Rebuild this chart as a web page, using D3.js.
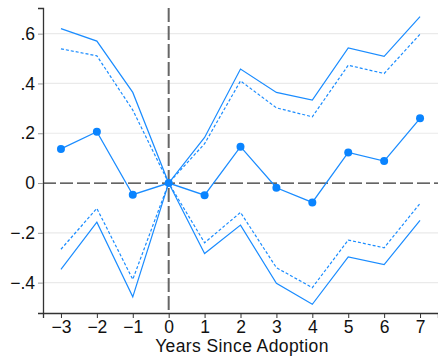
<!DOCTYPE html>
<html>
<head>
<meta charset="utf-8">
<script src="https://cdn.jsdelivr.net/npm/d3@7"></script>
<style>
body { margin: 0; background: #fff; }
svg { font-family: "Liberation Sans", Arial, sans-serif; }
</style>
</head>
<body>
<svg id="chart" width="438" height="357"></svg>
<script>
var years = [-3, -2, -1, 0, 1, 2, 3, 4, 5, 6, 7];
var estimate = [0.137, 0.206, -0.047, 0, -0.049, 0.146, -0.019, -0.078, 0.123, 0.088, 0.26];
var upper95 = [0.62, 0.57, 0.364, 0, 0.183, 0.458, 0.364, 0.333, 0.543, 0.509, 0.668];
var lower95 = [-0.347, -0.157, -0.457, 0, -0.283, -0.169, -0.403, -0.487, -0.297, -0.328, -0.15];
var upper90 = [0.539, 0.511, 0.293, 0, 0.158, 0.41, 0.302, 0.266, 0.473, 0.44, 0.598];
var lower90 = [-0.266, -0.102, -0.387, 0, -0.24, -0.118, -0.34, -0.42, -0.229, -0.26, -0.082];
var yTicks = [-0.4, -0.2, 0, 0.2, 0.4, 0.6];

var svg = d3.select("#chart");
var margin = {top: 8, right: 0, bottom: 44, left: 43};
var width = 438 - margin.left - margin.right;
var height = 357 - margin.top - margin.bottom;

var x = d3.scaleLinear().domain([-3.5, 7.5]).range([0, width]);
var y = d3.scaleLinear().domain([-0.522, 0.703]).range([height, 0]);

var g = svg.append("g").attr("transform", "translate(" + margin.left + "," + margin.top + ")");

// grid lines
g.selectAll(".grid")
    .data(yTicks.filter(function (d) { return d !== 0; }))
    .enter().append("line")
    .attr("x1", 0).attr("x2", width)
    .attr("y1", function (d) { return y(d); })
    .attr("y2", function (d) { return y(d); })
    .attr("stroke", "#eaeaea")
    .attr("stroke-width", 1.2);

// reference lines
g.append("line")
    .attr("x1", 0).attr("x2", width)
    .attr("y1", y(0)).attr("y2", y(0))
    .attr("stroke", "#333")
    .attr("stroke-width", 1.3)
    .attr("stroke-dasharray", "13,4");
g.append("line")
    .attr("x1", x(0)).attr("x2", x(0))
    .attr("y1", 0).attr("y2", height)
    .attr("stroke", "#666")
    .attr("stroke-width", 2)
    .attr("stroke-dasharray", "14,4");

var line = function (vals) {
    return d3.line()
        .x(function (d, i) { return x(years[i]); })
        .y(function (d) { return y(d); })(vals);
};

var blue = "#1a8cff";
[upper95, lower95].forEach(function (s) {
    g.append("path").attr("d", line(s))
        .attr("fill", "none").attr("stroke", blue).attr("stroke-width", 1.2);
});
[upper90, lower90].forEach(function (s) {
    g.append("path").attr("d", line(s))
        .attr("fill", "none").attr("stroke", blue).attr("stroke-width", 1.2)
        .attr("stroke-dasharray", "3,2");
});
g.append("path").attr("d", line(estimate))
    .attr("fill", "none").attr("stroke", blue).attr("stroke-width", 1.3);
g.selectAll(".pt")
    .data(estimate)
    .enter().append("circle")
    .attr("cx", function (d, i) { return x(years[i]); })
    .attr("cy", function (d) { return y(d); })
    .attr("r", 4)
    .attr("fill", "#0a84ff");

// axes
var fmt = function (d) {
    if (d === 0) return "0";
    var s = d3.format(".1f")(Math.abs(d)).replace(/^0/, "");
    return (d < 0 ? "\u2212" : "") + s;
};
var yAxis = g.append("g")
    .call(d3.axisLeft(y).tickValues(yTicks).tickSize(5).tickPadding(3).tickFormat(fmt));
yAxis.select(".domain").attr("stroke", "#333").attr("stroke-width", 1.3);
yAxis.selectAll(".tick line").attr("stroke", "#999");
yAxis.selectAll("text").attr("font-size", 17.5).attr("fill", "#111")
    .attr("font-family", "Liberation Sans, Arial, sans-serif");

var xAxis = g.append("g").attr("transform", "translate(0," + height + ")")
    .call(d3.axisBottom(x).tickValues(years).tickSizeOuter(0).tickSize(5).tickPadding(3)
        .tickFormat(function (d) { return d < 0 ? "\u2212" + Math.abs(d) : d; }));
xAxis.select(".domain").attr("stroke", "#333").attr("stroke-width", 1.3);
xAxis.selectAll(".tick line").attr("stroke", "#333");
xAxis.selectAll("text").attr("font-size", 17.5).attr("fill", "#111")
    .attr("font-family", "Liberation Sans, Arial, sans-serif");

svg.append("text")
    .attr("x", 242).attr("y", 352)
    .attr("text-anchor", "middle")
    .attr("font-size", 17.5)
    .attr("letter-spacing", 0.4)
    .attr("fill", "#111")
    .text("Years Since Adoption");
</script>
</body>
</html>
